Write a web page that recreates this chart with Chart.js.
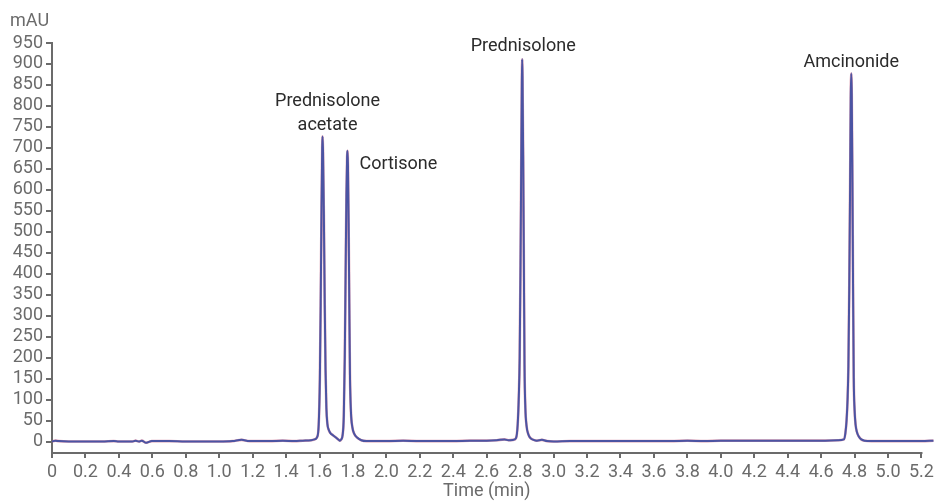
<!DOCTYPE html>
<html>
<head>
<meta charset="utf-8">
<script src="https://cdn.jsdelivr.net/npm/chart.js@4"></script>
<style>
  html, body { margin: 0; padding: 0; background: #fff; }
  #wrap { width: 938px; height: 501px; }
</style>
</head>
<body>
<div id="wrap"><canvas id="myChart"></canvas></div>
<script>
(() => {
  'use strict';

  // retention time (min)
  const times = [
    0, 0.02, 0.04, 0.1, 0.2, 0.3, 0.37, 0.4, 0.48, 0.5, 0.52, 0.537, 0.563, 0.597, 0.62, 0.7, 0.8, 0.9, 1.0, 1.08, 1.134, 1.18, 1.3, 1.38, 1.45, 1.5, 1.55, 1.57,
    1.585, 1.595, 1.602, 1.607, 1.612, 1.616, 1.618, 1.621, 1.626, 1.631, 1.636, 1.641, 1.647, 1.655, 1.665, 1.68, 1.70, 1.715, 1.722,
    1.73, 1.738, 1.745, 1.751, 1.756, 1.761, 1.765, 1.767, 1.770, 1.774, 1.778, 1.782, 1.788, 1.796, 1.808, 1.823, 1.85, 1.88,
    1.9, 2.0, 2.1, 2.2, 2.3, 2.4, 2.5, 2.6, 2.66, 2.706, 2.73, 2.76,
    2.775, 2.785, 2.792, 2.797, 2.802, 2.806, 2.810, 2.812, 2.814, 2.818, 2.822, 2.826, 2.831, 2.838, 2.848, 2.862, 2.88, 2.90, 2.93, 2.96,
    3.0, 3.1, 3.2, 3.3, 3.4, 3.5, 3.6, 3.7, 3.8, 3.9, 4.0, 4.1, 4.2, 4.3, 4.4, 4.5, 4.6, 4.7,
    4.736, 4.745, 4.752, 4.758, 4.763, 4.768, 4.773, 4.777, 4.780, 4.783, 4.787, 4.791, 4.795, 4.800, 4.806, 4.813, 4.825, 4.84, 4.86, 4.9,
    5.0, 5.1, 5.2, 5.273
  ];

  // absorbance (mAU)
  const absorbance = [
    0, 2, 1, 0, 0, 0, 1, 0, 0, 2, 0, 2, -3, 1, 1, 1, 0, 0, 0, 1, 4, 1, 1, 2, 1, 2, 3, 5,
    10, 40, 150, 330, 560, 700, 727, 690, 540, 330, 170, 80, 42, 28, 20, 15, 9, 4, 2,
    5, 15, 60, 200, 400, 590, 680, 693, 660, 520, 330, 160, 70, 35, 18, 10, 3, 1,
    1, 1, 2, 1, 1, 1, 2, 2, 3, 5, 3, 4,
    8, 40, 110, 200, 420, 640, 860, 911, 870, 680, 430, 180, 80, 38, 18, 8, 4, 2, 4, 1,
    0, 1, 1, 1, 1, 1, 1, 1, 2, 1, 2, 2, 2, 2, 2, 2, 2, 3,
    5, 20, 50, 100, 180, 360, 600, 820, 877, 830, 620, 360, 150, 75, 40, 24, 12, 5, 2, 1,
    1, 1, 1, 2
  ];

  const peakNames = [['Prednisolone', 'acetate'], ['Cortisone'], ['Prednisolone'], ['Amcinonide']];
  const peakTimes = [1.618, 1.767, 2.812, 4.780];
  const peakHeights = [727, 693, 911, 877];

  const xTicks = [0, 0.2, 0.4, 0.6, 0.8, 1.0, 1.2, 1.4, 1.6, 1.8, 2.0, 2.2, 2.4, 2.6, 2.8, 3.0, 3.2, 3.4, 3.6, 3.8, 4.0, 4.2, 4.4, 4.6, 4.8, 5.0, 5.2];
  const yTicks = [0, 50, 100, 150, 200, 250, 300, 350, 400, 450, 500, 550, 600, 650, 700, 750, 800, 850, 900, 950];

  const FONT = 'Roboto, "Noto Sans", sans-serif';
  const AXIS = '#6b6b6b';

  // label placement relative to each peak apex: dx, dy (last line), align
  const labelPlace = [
    {dx: 5, dy: -11, align: 'center'},
    {dx: 12, dy: 14, align: 'left'},
    {dx: 1, dy: -13, align: 'center'},
    {dx: 0, dy: -11, align: 'center'}
  ];

  const annotations = {
    id: 'annotations',
    beforeDatasetsDraw: chart => {
      // x axis line only runs to the last tick
      const {ctx, scales: {x}, chartArea} = chart;
      ctx.save();
      ctx.strokeStyle = AXIS;
      ctx.lineWidth = 2;
      ctx.beginPath();
      ctx.moveTo(chartArea.left - 1, chartArea.bottom + 1);
      ctx.lineTo(x.getPixelForValue(xTicks[xTicks.length - 1]) + 1, chartArea.bottom + 1);
      ctx.stroke();
      ctx.restore();
    },
    afterDraw: chart => {
      const {ctx, scales: {x, y}, chartArea} = chart;
      ctx.save();
      ctx.font = '18px ' + FONT;
      ctx.textBaseline = 'middle';
      ctx.fillStyle = AXIS;
      ctx.textAlign = 'left';
      ctx.fillText('mAU', chartArea.left - 42, 21);
      ctx.textAlign = 'center';
      const axisEnd = x.getPixelForValue(xTicks[xTicks.length - 1]);
      ctx.fillText('Time (min)', (chartArea.left + axisEnd) / 2, chart.height - 10);
      ctx.fillStyle = '#2b2b2b';
      peakNames.forEach((lines, i) => {
        const px = x.getPixelForValue(peakTimes[i]) + labelPlace[i].dx;
        const py = y.getPixelForValue(peakHeights[i]) + labelPlace[i].dy;
        ctx.textAlign = labelPlace[i].align;
        lines.forEach((s, j) => {
          ctx.fillText(s, px, py - (lines.length - 1 - j) * 24);
        });
      });
      ctx.restore();
    }
  };

  const points = times.map((t, i) => ({x: t, y: absorbance[i]}));

  const ctx = document.getElementById('myChart').getContext('2d');
  new Chart(ctx, {
    type: 'line',
    data: {
      datasets: [{
        data: points,
        borderColor: '#4b54a3',
        borderWidth: 2,
        pointRadius: 0,
        cubicInterpolationMode: 'monotone',
        borderJoinStyle: 'round',
        order: 1
      }, {
        data: points,
        borderColor: 'rgba(196, 96, 128, 0.6)',
        borderWidth: 2.6,
        pointRadius: 0,
        cubicInterpolationMode: 'monotone',
        borderJoinStyle: 'round',
        order: 2
      }]
    },
    options: {
      responsive: true,
      maintainAspectRatio: false,
      animation: false,
      layout: {padding: {top: 43, right: 3, left: 0, bottom: 0}},
      plugins: {
        legend: {display: false},
        tooltip: {enabled: false}
      },
      scales: {
        x: {
          type: 'linear',
          min: 0,
          max: 5.273,
          afterBuildTicks: axis => { axis.ticks = xTicks.map(v => ({value: v})); },
          afterFit: scale => { scale.height = 49; },
          ticks: {
            autoSkip: false,
            maxRotation: 0,
            padding: 4,
            color: AXIS,
            font: {family: FONT, size: 18},
            callback: v => (v === 0 ? '0' : v.toFixed(1))
          },
          grid: {drawOnChartArea: false, drawTicks: true, tickLength: 6, color: AXIS, lineWidth: 2},
          border: {display: false}
        },
        y: {
          min: -25,
          max: 950,
          afterBuildTicks: axis => { axis.ticks = yTicks.map(v => ({value: v})); },
          afterFit: scale => { scale.width = 52; },
          ticks: {
            autoSkip: false,
            padding: 3,
            color: AXIS,
            font: {family: FONT, size: 18}
          },
          grid: {drawOnChartArea: false, drawTicks: true, tickLength: 6, color: AXIS, lineWidth: 2},
          border: {display: true, color: AXIS, width: 2}
        }
      }
    },
    plugins: [annotations]
  });
})();
</script>
</body>
</html>
